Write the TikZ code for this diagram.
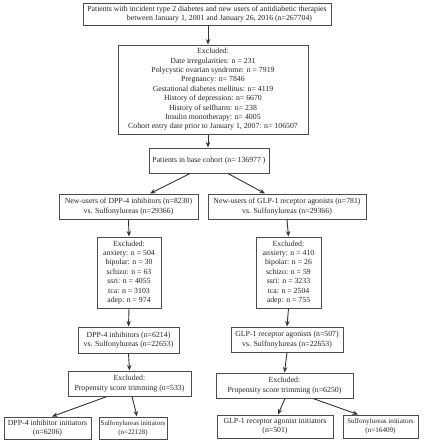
\documentclass[tikz,border=0pt]{standalone}
\usepackage{fontspec}
\setmainfont{Liberation Serif}
\usetikzlibrary{calc,arrows.meta}
\tikzset{
  box/.style={draw=black!70, line width=1pt, fill=white, inner sep=0pt, align=center,
    font=\fontsize{7.8}{9.4}\selectfont, text=black!85},
  smallbox/.style={box, font=\fontsize{7.1}{9}\selectfont},
  arr/.style={draw=black!80, line width=0.9pt, -{Stealth[length=5.5pt,width=4.5pt]}}
}
\begin{document}
\begin{tikzpicture}[x=1pt,y=-1pt]
\useasboundingbox (0,0) rectangle (427,440);
\node[box, minimum width=248pt, minimum height=22pt] (top) at (207,14)
  {Patients with incident type 2 diabetes and new users of antidiabetic therapies\\
   \hspace*{3.2em}between January 1, 2001 and January 26, 2016 (n=267704)};
\node[box, minimum width=190pt, minimum height=89pt] (excl) at (213,89.5)
  {Excluded:\\
   Date irregularities: n = 231\\
   Polycystic ovarian syndrome: n = 7919\\
   Pregnancy: n= 7846\\
   Gestational diabetes mellitus: n= 4119\\
   History of depression: n= 6670\\
   History of selfharm: n= 238\\
   Insulin monotherapy: n= 4005\\
   Cohort entry date prior to January 1, 2007: n= 106507};
\node[box, minimum width=120pt, minimum height=25pt] (base) at (209,160.5)
  {Patients in base cohort (n= 136977 )};
\node[box, minimum width=139pt, minimum height=25pt] (dpp) at (128.5,206.5)
  {New-users of DPP-4 inhibitors (n=8230)\\vs. Sulfonylureas (n=29366)};
\node[box, minimum width=158pt, minimum height=25pt] (glp) at (287,206.5)
  {New-users of GLP-1 receptor agonists (n=781)\\vs. Sulfonylureas (n=29366)};
\node[box, minimum width=64pt, minimum height=71pt] (dppx) at (129,272.5)
  {Excluded:\\anxiety: n = 504\\bipolar: n = 30\\schizo: n = 63\\ssri: n = 4055\\tca: n = 3103\\adep: n = 974};
\node[box, minimum width=65pt, minimum height=71pt] (glpx) at (288.5,272.5)
  {Excluded:\\anxiety: n = 410\\bipolar: n = 26\\schizo: n = 59\\ssri: n = 3233\\tca: n = 2504\\adep: n = 755};
\node[box, minimum width=101pt, minimum height=26pt] (dppv) at (128.5,340)
  {DPP-4 inhibitors (n=6214)\\vs. Sulfonylureas (n=22653)};
\node[box, minimum width=112pt, minimum height=25pt] (glpv) at (287,339.5)
  {GLP-1 receptor agonists (n=507)\\vs. Sulfonylureas (n=22653)};
\node[box, minimum width=123pt, minimum height=25pt] (dppp) at (129.5,383.5)
  {Excluded:\\Propensity score trimming (n=533)};
\node[box, minimum width=137pt, minimum height=25pt] (glpp) at (284.5,385.5)
  {Excluded:\\Propensity score trimming (n=6250)};
\node[box, minimum width=87pt, minimum height=22pt] (dppi) at (47.5,428)
  {DPP-4 inhibitor initiators\\(n=6206)};
\node[smallbox, font=\fontsize{6.9}{9}\selectfont, minimum width=68pt, minimum height=22pt] (dpps) at (133,428)
  {Sulfonylureas initiators\\(n=22128)};
\node[box, minimum width=116pt, minimum height=23pt] (glpi) at (275,426.5)
  {GLP-1 receptor agonist initiators\\(n=501)};
\node[smallbox, minimum width=75pt, minimum height=23pt] (glps) at (380.5,426.5)
  {Sulfonylureas initiators\\(n=16409)};
% connectors
\draw[arr] ($(top.south)+(1,0)$) -- ($(excl.north)+(-5,0)$);
\draw[arr] ($(excl.south)+(-5,0)$) -- ($(base.north)+(-1,0)$);
\draw[arr] ($(base.south)+(-19,0)$) -- ($(dpp.north)+(21.5,0)$);
\draw[arr] ($(base.south)+(19,0)$) -- ($(glp.north)+(-22,0)$);
\draw[arr] (dpp.south) -- (dppx.north);
\draw[arr] (glp.south) -- (glpx.north);
\draw[arr] (dppx.south) -- (dppv.north);
\draw[arr] (glpx.south) -- (glpv.north);
\draw[arr] (dppv.south) -- (dppp.north);
\draw[arr] (glpv.south) -- (glpp.north);
\draw[arr] ($(dppp.south)+(-22.5,0)$) -- ($(dppi.north)+(4.5,0)$);
\draw[arr] ($(dppp.south)+(2.5,0)$) -- ($(dpps.north)+(4,0)$);
\draw[arr] ($(glpp.south)+(0.5,0)$) -- ($(glpi.north)+(3,0)$);
\draw[arr] ($(glpp.south)+(28.5,0)$) -- ($(glps.north)+(-22.5,0)$);
\end{tikzpicture}
\end{document}
